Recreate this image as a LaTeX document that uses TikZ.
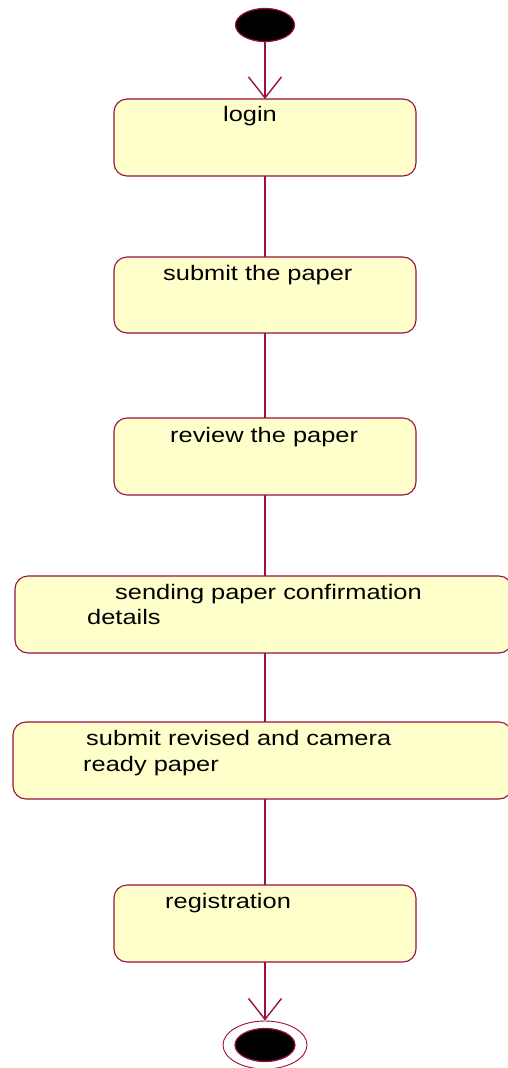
\documentclass[tikz,border=0pt]{standalone}
\usepackage{fontspec}
\setmainfont[FakeStretch=1.21]{Liberation Sans}
\usetikzlibrary{shapes.geometric,arrows.meta,positioning}
\definecolor{umlred}{RGB}{155,15,65}
\definecolor{umlfill}{RGB}{255,255,204}
\tikzset{
  activity/.style={draw=umlred, fill=umlfill, rounded corners=13pt, line width=1.1pt},
  flow/.style={draw=umlred, line width=1.4pt},
  flowarrow/.style={flow, -{Straight Barb[length=21pt,width=33pt,line width=1.4pt]}},
  label/.style={anchor=base west, inner sep=0pt, font=\fontsize{21pt}{24pt}\selectfont},
}
\begin{document}
\begin{tikzpicture}[x=1pt,y=-1pt]
\useasboundingbox (0,0) rectangle (507,1068);

% initial state
\node[ellipse, draw=umlred, fill=black, line width=1.2pt, minimum width=59pt, minimum height=33pt, inner sep=0pt] (start) at (265,25) {};

% activity boxes
\path[activity] (114,99) rectangle (416,176);
\coordinate (b1n) at (265,99); \coordinate (b1s) at (265,176);
\path[activity] (114,257) rectangle (416,333);
\coordinate (b2n) at (265,257); \coordinate (b2s) at (265,333);
\path[activity] (114,418) rectangle (416,495);
\coordinate (b3n) at (265,418); \coordinate (b3s) at (265,495);
\path[activity] (15,576) rectangle (512,653);
\coordinate (b4n) at (265,576); \coordinate (b4s) at (265,653);
\path[activity] (13,722) rectangle (512,799);
\coordinate (b5n) at (265,722); \coordinate (b5s) at (265,799);
\path[activity] (114,885) rectangle (416,962);
\coordinate (b6n) at (265,885); \coordinate (b6s) at (265,962);

% activity texts
\node[label] (t1) at (223,121) {login};
\node[label] (t2) at (163,280) {submit the paper};
\node[label] (t3) at (170,442) {review the paper};
\node[label] (t4a) at (115,599) {sending paper confirmation};
\node[label] (t4b) at (87,624) {details};
\node[label] (t5a) at (86,745) {submit revised and camera};
\node[label] (t5b) at (83,771) {ready paper};
\node[label] (t6) at (165,908) {registration};

% final state
\node[ellipse, draw=umlred, fill=white, line width=0.9pt, minimum width=84pt, minimum height=48pt, inner sep=0pt] (endring) at (265,1045) {};
\node[ellipse, draw=umlred, fill=black, line width=1.2pt, minimum width=60pt, minimum height=33pt, inner sep=0pt] (enddot) at (265,1045) {};

% transitions
\draw[flowarrow] (start.south) -- (b1n);
\draw[flow] (b1s) -- (b2n);
\draw[flow] (b2s) -- (b3n);
\draw[flow] (b3s) -- (b4n);
\draw[flow] (b4s) -- (b5n);
\draw[flow] (b5s) -- (b6n);
\draw[flowarrow] (b6s) -- (endring.north);
\end{tikzpicture}
\end{document}
